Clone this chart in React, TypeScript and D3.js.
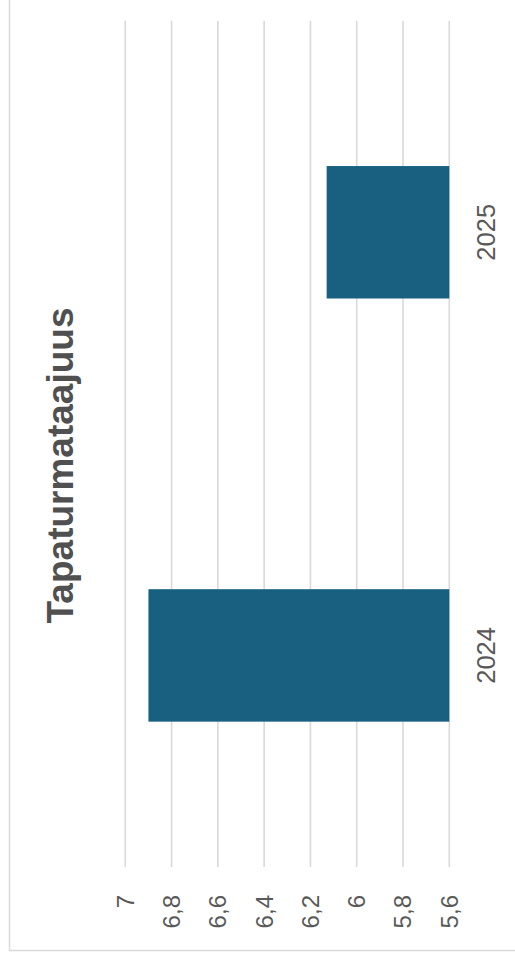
import React from "react";
import * as d3 from "d3";

const categories: string[] = ["2024", "2025"];
const values: number[] = [6.9, 6.13];
const tickValues: number[] = [5.6, 5.8, 6, 6.2, 6.4, 6.6, 6.8, 7];
const title = "Tapaturmataajuus";

const W = 515;
const H = 966;

export default function App() {
  // Chart is laid out in an unrotated frame (width = H, height = W), then rotated -90°.
  const x = d3
    .scaleBand<string>()
    .domain(categories)
    .range([99, 945.3])
    .paddingInner(0.687)
    .paddingOuter(0.3435);
  const y = d3.scaleLinear().domain([5.6, 7]).range([449.3, 125.3]);
  const fmt = (v: number) => d3.format("~g")(v).replace(".", ",");
  const font = "'Liberation Sans', Arial, sans-serif";

  return (
    <svg
      width={W}
      height={H}
      style={{ position: "absolute", left: 0, top: 0, background: "#fff" }}
    >
      <rect x={9.5} y={-10} width={600} height={960.5} fill="none" stroke="#d9d9d9" strokeWidth={1.5} />
      <g transform={`translate(0,${H}) rotate(-90)`}>
        {tickValues.map((t) => (
          <line
            key={"g" + t}
            x1={99}
            x2={945.3}
            y1={y(t)}
            y2={y(t)}
            stroke="#d9d9d9"
            strokeWidth={1.6}
          />
        ))}
        {categories.map((c, i) => (
          <rect
            key={c}
            x={x(c)!}
            width={x.bandwidth()}
            y={y(values[i])}
            height={y(5.6) - y(values[i])}
            fill="#185f80"
          />
        ))}
        {tickValues.map((t) => (
          <text
            key={"t" + t}
            x={71}
            y={y(t)}
            dy="0.35em"
            textAnchor="end"
            fontFamily={font}
            fontSize={24}
            fill="#595959"
          >
            {fmt(t)}
          </text>
        ))}
        {categories.map((c) => (
          <text
            key={"c" + c}
            x={x(c)! + x.bandwidth() / 2}
            y={495}
            textAnchor="middle"
            fontFamily={font}
            fontSize={25.5}
            fill="#595959"
          >
            {c}
          </text>
        ))}
        <text
          x={500.5}
          y={73}
          textAnchor="middle"
          fontFamily={font}
          fontSize={37}
          fontWeight="bold"
          fill="#505050"
        >
          {title}
        </text>
      </g>
    </svg>
  );
}
